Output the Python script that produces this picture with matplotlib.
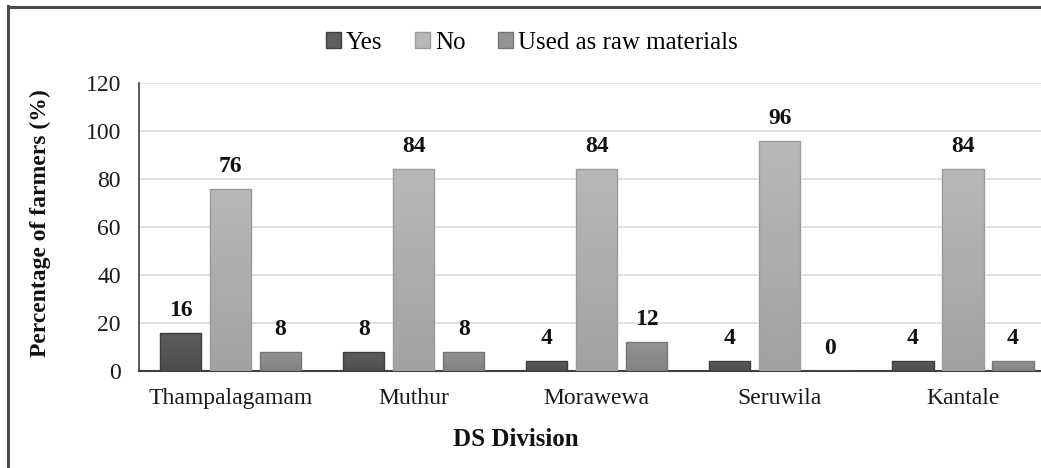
import matplotlib
matplotlib.use("Agg")
import matplotlib.pyplot as plt
import numpy as np
from matplotlib.patches import Rectangle
from matplotlib.lines import Line2D
from matplotlib.colors import LinearSegmentedColormap

categories = ["Thampalagamam", "Muthur", "Morawewa", "Seruwila", "Kantale"]
series_names = ["Yes", "No", "Used as raw materials"]
yes_vals = [16, 8, 4, 4, 4]
no_vals = [76, 84, 84, 96, 84]
raw_vals = [8, 8, 12, 0, 4]
yticks = [0, 20, 40, 60, 80, 100, 120]

plt.rcParams['font.family'] = ['Liberation Serif', 'DejaVu Serif']

W, H = 1041, 468
fig = plt.figure(figsize=(W / 100, H / 100), dpi=100)
fig.patch.set_facecolor("white")

# outer frame (left and top visible)
fig.add_artist(Line2D([7.5 / W, 7.5 / W], [0, 1 - 6 / H], transform=fig.transFigure,
                      color="#4a4a4a", lw=2.2))
fig.add_artist(Line2D([7.5 / W, 1.0], [1 - 6.5 / H, 1 - 6.5 / H], transform=fig.transFigure,
                      color="#4a4a4a", lw=2.2))

left_px, right_px = 139, 1054.5
top_px, bot_px = 83, 371
ax = fig.add_axes([left_px / W, 1 - bot_px / H, (right_px - left_px) / W, (bot_px - top_px) / H])

x = np.arange(len(categories))
width = 0.225
step = 0.273
top_cols = ["#5e5e5e", "#b8b8b8", "#939393"]
bot_cols = ["#4c4c4c", "#a2a2a2", "#828282"]
edges = ["#3f3f3f", "#9a9a9a", "#767676"]
data = [yes_vals, no_vals, raw_vals]

for i, (vals, ec, name) in enumerate(zip(data, edges, series_names)):
    cmap = LinearSegmentedColormap.from_list(f"g{i}", [bot_cols[i], top_cols[i]])
    xs = x + (i - 1) * step
    bars = ax.bar(xs, vals, width, facecolor="none", edgecolor=ec, linewidth=1.0,
                  label=name, zorder=4)
    for b, xi, v in zip(bars, xs, vals):
        if v > 0:
            grad = np.linspace(0, 1, 64).reshape(-1, 1)
            im = ax.imshow(grad, cmap=cmap, origin="lower", aspect="auto",
                           extent=(xi - width / 2, xi + width / 2, 0, v), zorder=3)
            im.set_clip_path(b)
        ax.text(xi, v + 5, f"{v}", ha="center", va="bottom", fontsize=17,
                fontweight="bold", color="#111111")

ax.set_xlim(-0.5, len(categories) - 0.5)
ax.set_ylim(0, 120)
ax.set_yticks(yticks)
ax.set_yticklabels([str(t) for t in yticks], fontsize=17)
ax.set_xticks(x)
ax.set_xticklabels(categories, fontsize=17)
ax.tick_params(axis="both", length=0, colors="#1a1a1a")
ax.tick_params(axis="x", pad=12)
ax.tick_params(axis="y", pad=13)
ax.grid(axis="y", color="#d9dce0", linewidth=1.2, zorder=0)
for s in ["top", "right"]:
    ax.spines[s].set_visible(False)
ax.spines["left"].set_color("#404040")
ax.spines["left"].set_linewidth(1.2)
ax.spines["bottom"].set_color("#404040")
ax.spines["bottom"].set_linewidth(1.5)

fig.text(40 / W, 1 - 223 / H, "Percentage of farmers (%)", fontsize=17, fontweight="bold",
         rotation=90, ha="center", va="center", color="#111111")
fig.text(516 / W, 1 - 440 / H, "DS Division", fontsize=18, fontweight="bold",
         ha="center", va="center", color="#111111")

handles = [Rectangle((0, 0), 1, 1, facecolor=c, edgecolor=ec) for c, ec in zip(top_cols, edges)]
fig.legend(handles, series_names, loc="center", bbox_to_anchor=(532 / W, 1 - 43 / H),
           ncol=3, frameon=False, fontsize=18, handlelength=0.6, handleheight=0.6,
           handletextpad=0.2, columnspacing=1.3)

fig.savefig("out.png", dpi=100, facecolor="white")
